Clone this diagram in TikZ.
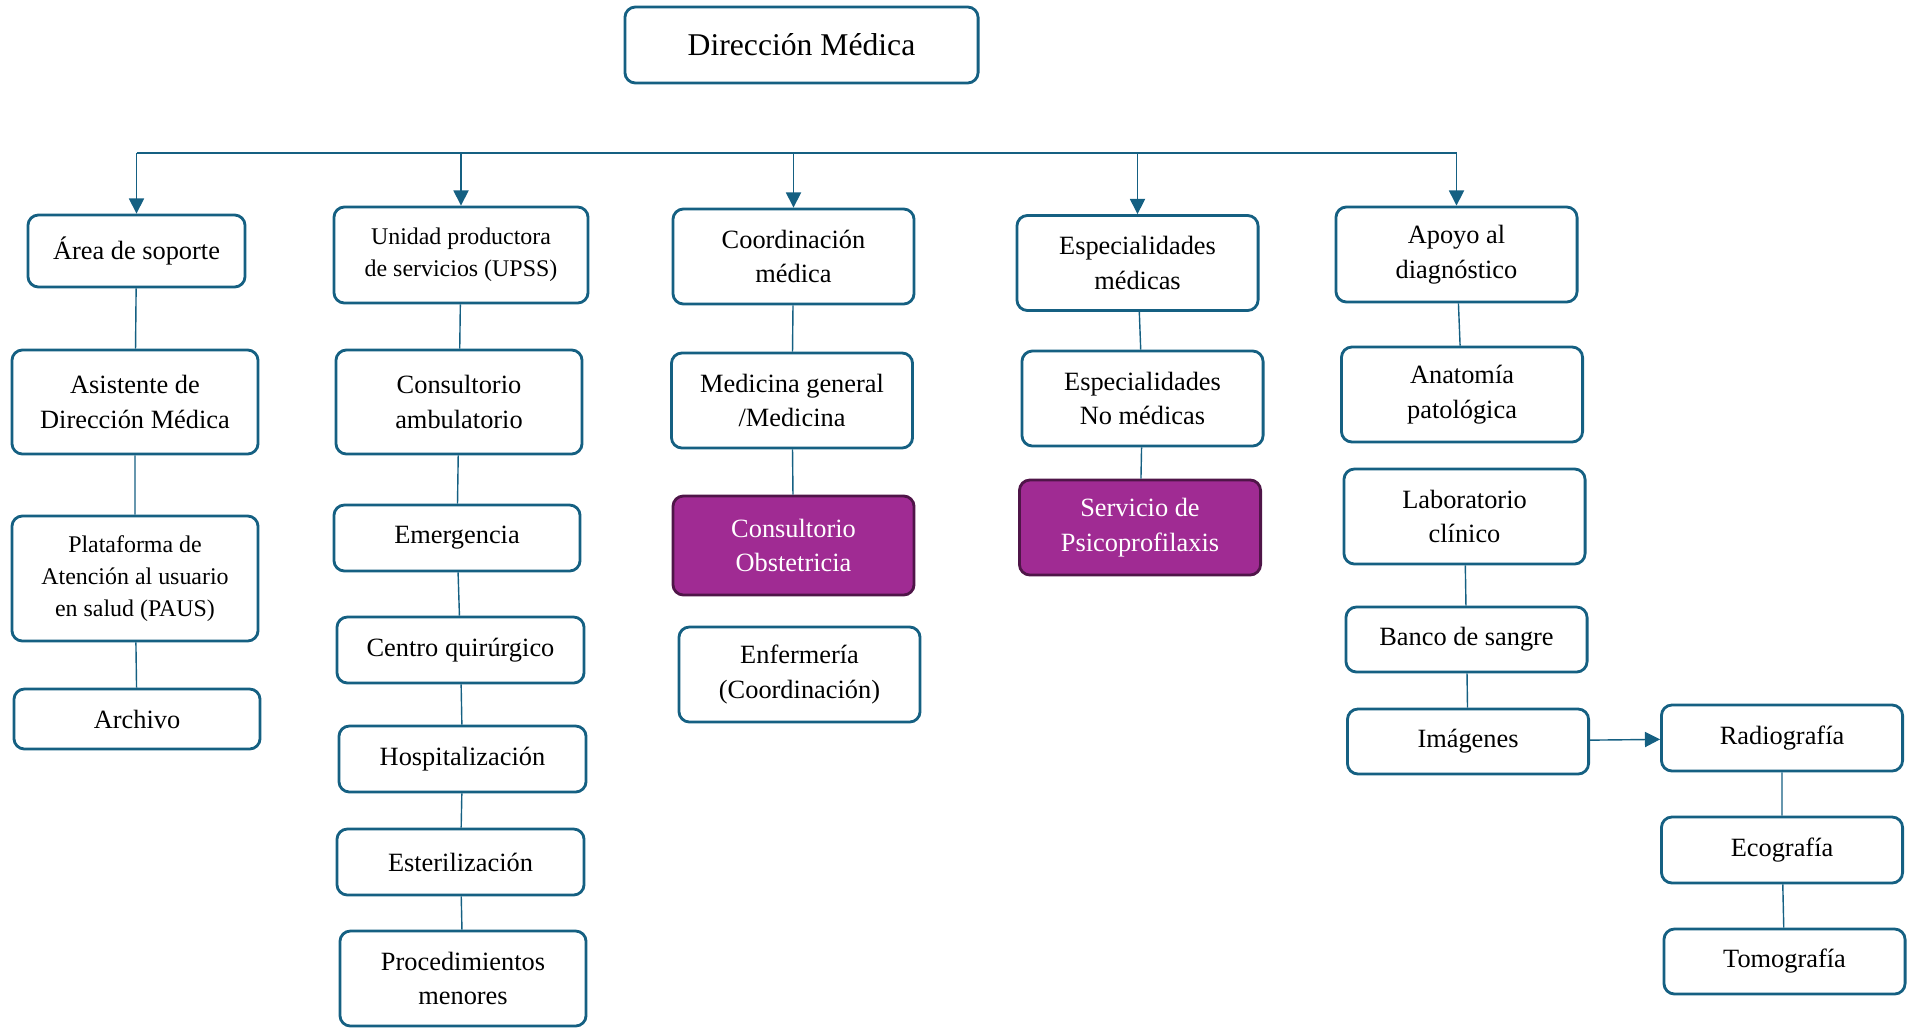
\documentclass[tikz,border=0pt]{standalone}
\usepackage{fontspec}
\setmainfont{Liberation Serif}
\usetikzlibrary{arrows.meta}
\definecolor{borde}{HTML}{156082}
\definecolor{morado}{HTML}{A02B93}
\definecolor{moradoosc}{HTML}{4F1548}
\tikzset{
  caja/.style={draw=borde, line width=0.8pt, rounded corners=3pt, fill=white, align=center, inner sep=0pt,
    minimum width=2.41cm, minimum height=0.95cm, font=\fontsize{7.5}{9.9}\selectfont},
  cajam/.style={caja, draw=moradoosc, fill=morado, text=white},
  chica/.style={font=\fontsize{6.8}{9}\selectfont},
  linea/.style={draw=borde, line width=0.4pt},
  flecha/.style={linea, -{Triangle[length=4.3pt,width=4.3pt]}},
}
\begin{document}
\begin{tikzpicture}[x=0.01cm,y=-0.01cm]
\useasboundingbox (0,0) rectangle (1907,1027);
\node[caja, font=\fontsize{9}{11}\selectfont, minimum width=3.53cm, minimum height=0.76cm] (dir) at (801.5,45) {Dirección Médica};
% columna soporte
\node[caja, minimum width=2.17cm, minimum height=0.72cm] (area) at (136.5,251) {Área de soporte};
\node[caja, minimum width=2.46cm, minimum height=1.04cm] (asis) at (135,402) {Asistente de\\Dirección Médica};
\node[caja, chica, minimum width=2.46cm, minimum height=1.25cm] (plat) at (135,578.5) {Plataforma de\\Atención al usuario\\en salud (PAUS)};
\node[caja, minimum width=2.46cm, minimum height=0.60cm] (arch) at (137,719) {Archivo};
% columna UPSS
\node[caja, chica, minimum width=2.54cm, minimum height=0.96cm] (upss) at (461,255) {Unidad productora\\de servicios (UPSS)};
\node[caja, minimum width=2.46cm, minimum height=1.04cm] (cons) at (459,402) {Consultorio\\ambulatorio};
\node[caja, minimum width=2.46cm, minimum height=0.66cm] (emer) at (457,538) {Emergencia};
\node[caja, minimum width=2.47cm, minimum height=0.66cm] (cent) at (460.5,650) {Centro quirúrgico};
\node[caja, minimum width=2.47cm, minimum height=0.66cm] (hosp) at (462.5,759) {Hospitalización};
\node[caja, minimum width=2.47cm, minimum height=0.66cm] (este) at (460.5,862) {Esterilización};
\node[caja, minimum width=2.46cm] (proc) at (463,978.5) {Procedimientos\\menores};
% columna coordinacion
\node[caja] (coor) at (793.5,256.5) {Coordinación\\médica};
\node[caja] (medi) at (792,400.5) {Medicina general\\/Medicina};
\node[cajam, minimum height=0.99cm] (obst) at (793.5,545.5) {Consultorio\\Obstetricia};
\node[caja] (enfe) at (799.5,674.5) {Enfermería\\(Coordinación)};
% columna especialidades
\node[caja] (espm) at (1137.5,263) {Especialidades\\médicas};
\node[caja] (espn) at (1142.5,398.5) {Especialidades\\No médicas};
\node[cajam] (psic) at (1140,527.5) {Servicio de\\Psicoprofilaxis};
% columna apoyo
\node[caja] (apoy) at (1456.5,254.5) {Apoyo al\\diagnóstico};
\node[caja] (anat) at (1462,394.5) {Anatomía\\patológica};
\node[caja] (labo) at (1464.5,516.5) {Laboratorio\\clínico};
\node[caja, minimum height=0.65cm] (banc) at (1466.5,639.5) {Banco de sangre};
\node[caja, minimum height=0.65cm] (imag) at (1468,741.5) {Imágenes};
\node[caja, minimum height=0.66cm] (radi) at (1782,738) {Radiografía};
\node[caja, minimum height=0.66cm] (ecog) at (1782,850) {Ecografía};
\node[caja, minimum height=0.65cm] (tomo) at (1784.5,961.5) {Tomografía};
% barra y flechas
\coordinate (barra) at (0,153);
\draw[linea] (area.north |- barra) -- (apoy.north |- barra);
\draw[flecha] (area.north |- barra) -- (area.north);
\draw[flecha] (upss.north |- barra) -- (upss.north);
\draw[flecha] (coor.north |- barra) -- (coor.north);
\draw[flecha] (espm.north |- barra) -- (espm.north);
\draw[flecha] (apoy.north |- barra) -- (apoy.north);
% lineas
\draw[linea] (area) -- (asis) (asis) -- (plat) (plat) -- (arch);
\draw[linea] (upss) -- (cons) (cons) -- (emer) (emer) -- (cent) (cent) -- (hosp) (hosp) -- (este) (este) -- (proc);
\draw[linea] (coor) -- (medi) (medi) -- (obst);
\draw[linea] (espm) -- (espn) (espn) -- (psic);
\draw[linea] (apoy) -- (anat) (labo) -- (banc) (banc) -- (imag);
\draw[linea] (radi) -- (ecog) (ecog) -- (tomo);
\draw[flecha] (imag) -- (radi);
\end{tikzpicture}
\end{document}
